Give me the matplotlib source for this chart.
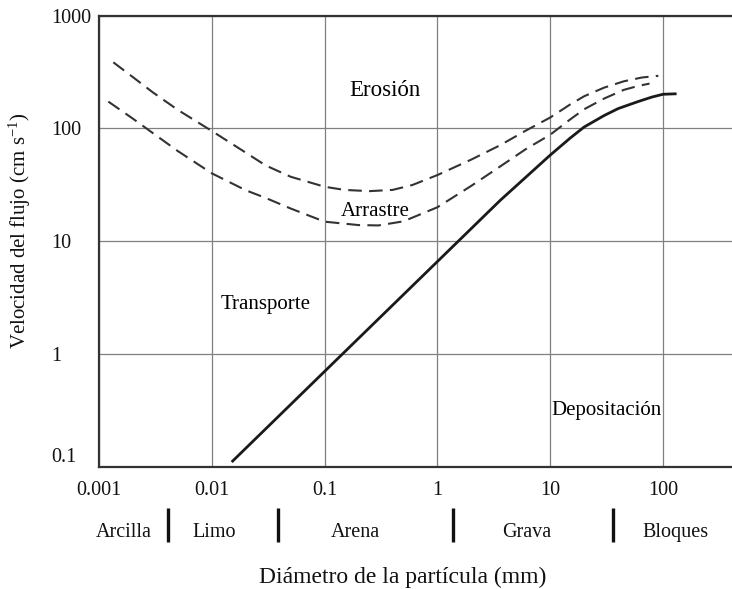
import matplotlib
matplotlib.use("Agg")
import matplotlib.pyplot as plt
import matplotlib.transforms as mtransforms

plt.rcParams['font.family'] = ['Liberation Serif', 'DejaVu Serif']
plt.rcParams['mathtext.fontset'] = 'custom'
plt.rcParams['mathtext.rm'] = 'Liberation Serif'
plt.rcParams['mathtext.default'] = 'regular'

# curves (diameter in mm, velocity in cm/s)
erosion_hi_x = [0.00134, 0.002, 0.003, 0.005, 0.01, 0.02, 0.03, 0.05, 0.1, 0.15, 0.25,
                0.4, 0.6, 1, 2, 3.6, 6, 10, 15, 20, 30, 45, 65, 91]
erosion_hi_y = [386, 285, 209, 146, 95, 61, 47, 37.3, 30.4, 28.5, 27.8,
                28.5, 31.5, 38.6, 53, 71, 95, 125, 163, 193, 230, 262, 283, 293]

erosion_lo_x = [0.00121, 0.002, 0.003, 0.005, 0.01, 0.02, 0.03, 0.05, 0.1, 0.2, 0.3,
                0.5, 1, 2, 3.6, 6, 10, 15, 20, 30, 45, 60, 76]
erosion_lo_y = [173, 122, 91, 63, 40, 28.3, 24.2, 19.5, 14.9, 13.9, 13.8,
                15, 20, 31, 46, 65, 88, 120, 148, 184, 220, 238, 250]

deposit_x = [0.015, 0.1, 1, 3.6, 10, 15, 20, 30, 40, 60, 80, 100, 132]
deposit_y = [0.11, 0.70, 6.6, 23, 58, 82, 103, 130, 150, 173, 190, 201, 203]

x_ticks = [0.001, 0.01, 0.1, 1, 10, 100]
x_labels = ['0.001', '0.01', '0.1', '1', '10', '100']
y_ticks = [0.1, 1, 10, 100, 1000]
y_labels = ['0.1', '1', '10', '100', '1000']

classes = ['Arcilla', 'Limo', 'Arena', 'Grava', 'Bloques']
class_pos = [0.00165, 0.0105, 0.186, 6.2, 130]
class_bounds = [0.00406, 0.0386, 1.37, 36]

W, H = 732, 589
fig = plt.figure(figsize=(W / 100, H / 100), dpi=100)
ax = fig.add_axes([99 / W, 1 - 466.7 / H, (W - 99) / W, (466.7 - 15.7) / H])
ax.set_xscale('log')
ax.set_yscale('log')
ax.set_xlim(0.001, 409)
ax.set_ylim(0.1, 1000)

ax.grid(True, which='major', color='#808080', lw=0.9)
ax.minorticks_off()
ax.set_xticks(x_ticks, x_labels)
ax.set_yticks(y_ticks, y_labels)
ax.tick_params(axis='both', length=0, labelsize=14.5, colors='#111111')
ax.tick_params(axis='x', pad=10)
ax.tick_params(axis='y', pad=34.5)
for lab in ax.get_yticklabels():
    lab.set_horizontalalignment('left')
# the bottom label sits a bit above its line
off = mtransforms.ScaledTranslation(0, 12 / 100, fig.dpi_scale_trans)
ax.get_yticklabels()[0].set_transform(ax.get_yticklabels()[0].get_transform() + off)

for s in ['left', 'top', 'bottom']:
    ax.spines[s].set_color('#333333')
    ax.spines[s].set_linewidth(1.6)
ax.spines['right'].set_visible(False)

ax.plot(erosion_hi_x, erosion_hi_y, color='#333333', lw=1.5, dashes=(6.5, 3.5))
ax.plot(erosion_lo_x, erosion_lo_y, color='#333333', lw=1.5, dashes=(6.5, 3.5))
ax.plot(deposit_x, deposit_y, color='#1a1a1a', lw=2.0, solid_capstyle='butt')

ax.text(0.343, 215, 'Erosión', fontsize=16.5, ha='center', va='center')
ax.text(0.28, 18.5, 'Arrastre', fontsize=15, ha='center', va='center')
ax.text(0.030, 2.72, 'Transporte', fontsize=15, ha='center', va='center')
ax.text(31.3, 0.318, 'Depositación', fontsize=15, ha='center', va='center')

tr = ax.get_xaxis_transform()
for name, xp in zip(classes, class_pos):
    ax.text(xp, (466.7 - 537) / 451, name, transform=tr, fontsize=14.5,
            ha='center', va='baseline', color='#111111')
for xb in class_bounds:
    ax.plot([xb, xb], [(466.7 - 508) / 451, (466.7 - 542) / 451], transform=tr,
            color='#111111', lw=2.4, clip_on=False, solid_capstyle='butt')

fig.text(403 / W, 1 - 583 / H, 'Diámetro de la partícula (mm)', fontsize=17,
         ha='center', va='baseline', color='#111111')
fig.text(20 / W, 1 - 231 / H, 'Velocidad del flujo (cm s$^{-1}$)', fontsize=15,
         rotation=90, ha='center', va='center', color='#111111')

fig.savefig('out.png', dpi=100)
